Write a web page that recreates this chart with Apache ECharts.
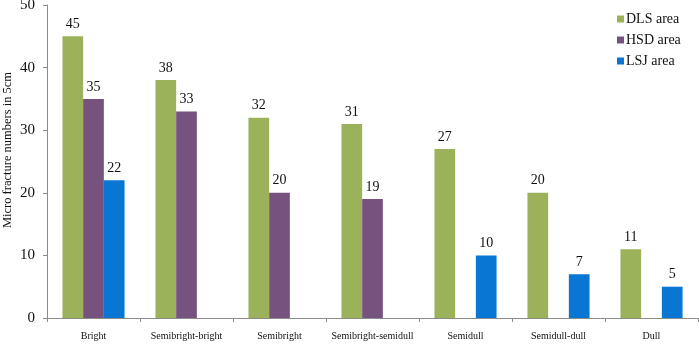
<!DOCTYPE html>
<html><head><meta charset="utf-8">
<script src="https://cdn.jsdelivr.net/npm/echarts@6/dist/echarts.min.js"></script>
<style>html,body{margin:0;padding:0;background:#fff}#c{width:699px;height:344px}</style>
</head><body><div id="c"></div>
<script>
var categories = ['Bright','Semibright-bright','Semibright','Semibright-semidull','Semidull','Semidull-dull','Dull'];
var dlsArea = [45,38,32,31,27,20,11];
var hsdArea = [35,33,20,19,null,null,null];
var lsjArea = [22,null,null,null,10,7,5];
var seriesNames = ['DLS area','HSD area','LSJ area'];
var yTicks = {min:0, max:50, interval:10};

var font = '"Liberation Serif","Times New Roman",serif';
var colors = ['#9cb25a','#76527f','#0a76d4'];
var axisColor = '#8c8c8c';
function mk(name, data, color){
  return {name:name, type:'bar', data:data, barWidth:20.7, barGap:'0%', barCategoryGap:'33%',
    itemStyle:{color:color},
    label:{show:true, position:'top', distance:5, color:'#111', fontFamily:font, fontSize:14}};
}
var chart = echarts.init(document.getElementById('c'), null, {renderer:'canvas'});
chart.setOption({
  animation:false,
  color:colors,
  grid:{left:47, right:1, top:5, bottom:26, containLabel:false, outerBoundsMode:'none'},
  legend:{orient:'vertical', left:612, top:7, itemWidth:7, itemHeight:7, itemGap:7, icon:'rect',
    textStyle:{fontFamily:font, fontSize:14, color:'#111', padding:[0,0,0,-3]},
    data:seriesNames},
  xAxis:{type:'category', data:categories,
    axisLine:{lineStyle:{color:axisColor, width:1}},
    axisTick:{show:true, alignWithLabel:false, length:4, lineStyle:{color:axisColor}},
    axisLabel:{fontFamily:font, fontSize:10, color:'#111', margin:13, interval:0}},
  yAxis:{type:'value', min:yTicks.min, max:yTicks.max, interval:yTicks.interval,
    name:'Micro fracture numbers in 5cm', nameLocation:'middle', nameGap:33, nameMoveOverlap:false,
    nameTextStyle:{fontFamily:font, fontSize:12.5, color:'#111', padding:[0,0,0,23]},
    axisLine:{show:true, lineStyle:{color:axisColor, width:1}},
    axisTick:{show:true, length:4, lineStyle:{color:axisColor}},
    splitLine:{show:false},
    axisLabel:{fontFamily:font, fontSize:15, color:'#111', margin:12}},
  series:[mk(seriesNames[0], dlsArea, colors[0]), mk(seriesNames[1], hsdArea, colors[1]), mk(seriesNames[2], lsjArea, colors[2])]
});
</script></body></html>
